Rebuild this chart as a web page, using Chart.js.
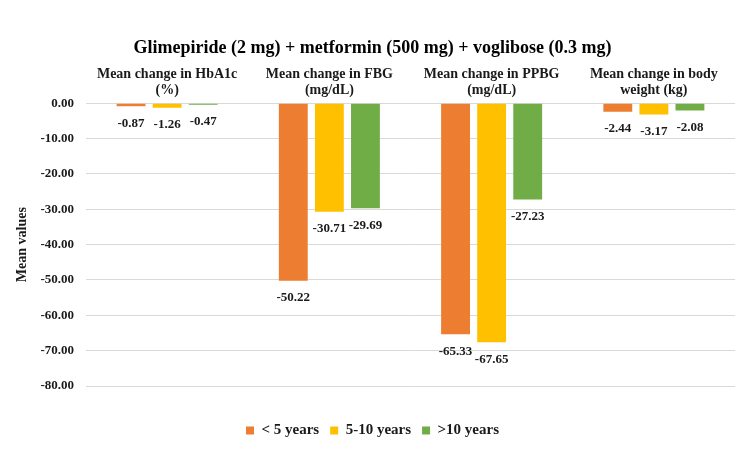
<!DOCTYPE html>
<html>
<head>
<meta charset="utf-8">
<script src="https://cdn.jsdelivr.net/npm/chart.js@4/dist/chart.umd.min.js"></script>
<style>
  html, body { margin: 0; padding: 0; background: #fff; }
  #wrap { width: 750px; height: 455px; }
</style>
</head>
<body>
<div id="wrap"><canvas id="chart"></canvas></div>
<script>
const categories = [
  ['Mean change in HbA1c', '(%)'],
  ['Mean change in FBG', '(mg/dL)'],
  ['Mean change in PPBG', '(mg/dL)'],
  ['Mean change in body', 'weight (kg)']
];
const under5 = [-0.87, -50.22, -65.33, -2.44];
const from5to10 = [-1.26, -30.71, -67.65, -3.17];
const over10 = [-0.47, -29.69, -27.23, -2.08];

const FONT = '"Liberation Serif", "Times New Roman", serif';

// draws value labels under the end of each bar
const barLabels = {
  id: 'barLabels',
  afterDatasetsDraw(chart) {
    const ctx = chart.ctx;
    ctx.save();
    ctx.font = 'bold 13px ' + FONT;
    ctx.fillStyle = '#1a1a1a';
    ctx.textAlign = 'center';
    ctx.textBaseline = 'middle';
    chart.data.datasets.forEach((ds, di) => {
      chart.getDatasetMeta(di).data.forEach((bar, i) => {
        ctx.fillText(ds.data[i].toFixed(2), bar.x, bar.y + 17);
      });
    });
    ctx.restore();
  }
};

new Chart(document.getElementById('chart').getContext('2d'), {
  type: 'bar',
  data: {
    labels: categories,
    datasets: [
      {label: '< 5 years', data: under5, backgroundColor: '#ED7D31'},
      {label: '5-10 years', data: from5to10, backgroundColor: '#FFC000'},
      {label: '>10 years', data: over10, backgroundColor: '#70AD47'}
    ]
  },
  options: {
    responsive: true,
    maintainAspectRatio: false,
    animation: false,
    categoryPercentage: 0.667,
    barPercentage: 0.8,
    layout: {padding: {left: 10, right: 15, top: 10, bottom: 7}},
    plugins: {
      title: {
        display: true,
        text: 'Glimepiride (2 mg) + metformin (500 mg) + voglibose (0.3 mg)',
        color: '#000',
        font: {family: FONT, size: 18, weight: 'bold'},
        padding: {top: 28, bottom: 2}
      },
      legend: {
        position: 'bottom',
        labels: {
          color: '#1a1a1a',
          boxWidth: 8, boxHeight: 8,
          padding: 11,
          font: {family: FONT, size: 15, weight: 'bold'}
        }
      },
      tooltip: {enabled: false}
    },
    scales: {
      x: {
        position: 'top',
        grid: {display: false, drawTicks: false},
        border: {display: false},
        ticks: {
          color: '#1a1a1a',
          padding: 4,
          font: {family: FONT, size: 14, weight: 'bold'}
        }
      },
      // empty strip between the plot and the legend
      gap: {
        type: 'category',
        axis: 'x',
        position: 'bottom',
        grid: {display: false, drawTicks: false},
        border: {display: false},
        ticks: {display: false},
        afterFit(scale) { scale.height = 26; }
      },
      y: {
        min: -80, max: 0,
        grid: {color: '#d9d9d9', lineWidth: 1, drawTicks: false},
        border: {display: false},
        afterFit(scale) { scale.width = 76; },
        title: {
          display: true,
          text: 'Mean values',
          color: '#1a1a1a',
          font: {family: FONT, size: 14, weight: 'bold'}
        },
        ticks: {
          stepSize: 10,
          color: '#1a1a1a',
          padding: 12,
          font: {family: FONT, size: 13, weight: 'bold'},
          callback: v => v.toFixed(2)
        }
      }
    }
  },
  plugins: [barLabels]
});
</script>
</body>
</html>
